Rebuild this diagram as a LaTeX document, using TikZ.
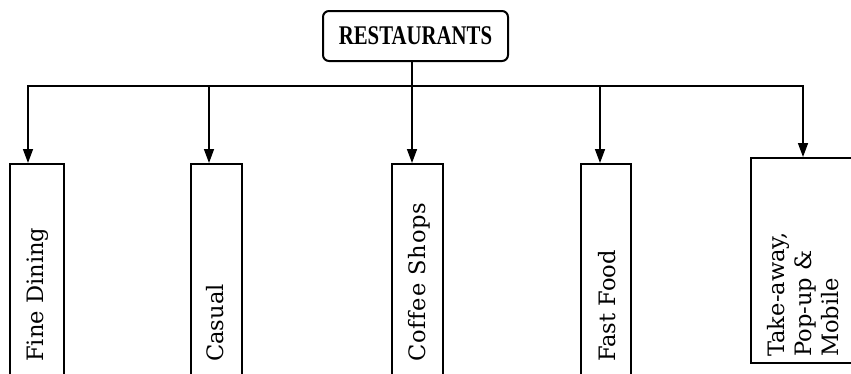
\documentclass[tikz,border=0pt]{standalone}
\usepackage{fontspec}
\usepackage{graphicx}
\newfontfamily\labfont{DejaVu Serif}
\newfontfamily\topfont{Liberation Serif}
\usetikzlibrary{arrows.meta}
\begin{document}
\begin{tikzpicture}[x=1pt,y=-1pt,
  boxst/.style={draw,line width=1.6pt,inner sep=0pt,anchor=north west},
  conn/.style={line width=1.5pt},
  arr/.style={conn,-{Triangle[length=14pt,width=10pt]}},
  lab/.style={rotate=90,anchor=base west,inner sep=0pt,font=\labfont\fontsize{22.6}{27}\selectfont}]
\useasboundingbox (0,0) rectangle (851,373);
\clip (0,0) rectangle (851,373);
\node[draw,line width=2pt,rounded corners=6pt,minimum width=185pt,minimum height=50pt,inner sep=0pt,
  font=\topfont\bfseries\fontsize{27}{29}\selectfont] (top) at (415.5,36) {\scalebox{0.77}[1]{RESTAURANTS}};
% boxes
\node[boxst,minimum width=54pt,minimum height=227pt] (fine) at (9,163) {};
\node[boxst,minimum width=51pt,minimum height=227pt] (casual) at (190,163) {};
\node[boxst,minimum width=51pt,minimum height=227pt] (coffee) at (391,163) {};
\node[boxst,minimum width=50pt,minimum height=227pt] (fast) at (580,163) {};
\node[boxst,minimum width=110pt,minimum height=205pt] (take) at (750,157) {};
% junctions
\coordinate (j1) at (28,86);
\coordinate (j2) at (209,86);
\coordinate (j3) at (412,86);
\coordinate (j4) at (600,86);
\coordinate (j5) at (803,86);
\draw[conn] (top.south -| j3) -- (j3);
\draw[arr] (j3) -- (j1) -- (fine.north -| j1);
\draw[arr] (j3) -- (j5) -- (take.north -| j5);
\draw[arr] (j2) -- (casual.north -| j2);
\draw[arr] (j3) -- (coffee.north -| j3);
\draw[arr] (j4) -- (fast.north -| j4);
% labels
\node[lab] (tfine) at (43,362) {Fine Dining};
\node[lab] (tcas) at (223,362) {Casual};
\node[lab] (tcof) at (425,362) {C\kern0.8pt o\kern0.8pt f\kern0.8pt f\kern0.8pt e\kern0.8pt e\kern0.8pt\ S\kern0.8pt h\kern0.8pt o\kern0.8pt p\kern0.8pt s};
\node[lab] (tfast) at (615,362) {Fast Food};
\node[lab,anchor=west,align=left] (ttake) at (803,357) {Take-away,\\Pop-up \&\\Mobile};
\end{tikzpicture}
\end{document}
